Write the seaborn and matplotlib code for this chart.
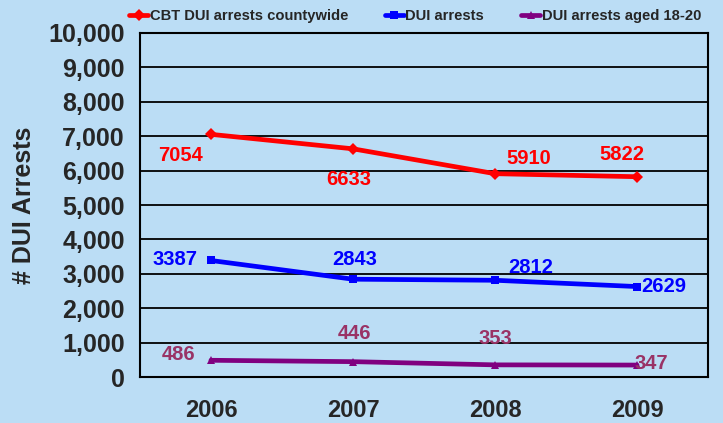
import pandas as pd
import numpy as np
import matplotlib
matplotlib.use('Agg')
import matplotlib.pyplot as plt
import seaborn as sns
from matplotlib.ticker import FuncFormatter, FixedLocator

years = ['2006', '2007', '2008', '2009']
cbt_countywide = [7054, 6633, 5910, 5822]
dui_arrests = [3387, 2843, 2812, 2629]
dui_aged_18_20 = [486, 446, 353, 347]

series_names = ['CBT DUI arrests countywide', 'DUI arrests', 'DUI arrests aged 18-20']

df = pd.DataFrame({
    'year': years * 3,
    'arrests': cbt_countywide + dui_arrests + dui_aged_18_20,
    'series': np.repeat(series_names, len(years)),
})

sns.set_style('white')
plt.rcParams['font.family'] = ['Liberation Sans', 'DejaVu Sans']
plt.rcParams['font.weight'] = 'bold'

bg = '#BBDDF5'
line_colors = {series_names[0]: '#FF0000', series_names[1]: '#0000FF', series_names[2]: '#800080'}
label_colors = {series_names[0]: '#FF0000', series_names[1]: '#0000FF', series_names[2]: '#993366'}

fig = plt.figure(figsize=(7.23, 4.23), dpi=100, facecolor=bg)
ax = fig.add_axes([140 / 723, 46 / 423, 568 / 723, 344 / 423])
ax.set_facecolor(bg)

sns.lineplot(
    data=df, x='year', y='arrests', hue='series', style='series',
    palette=line_colors, markers={series_names[0]: 'D', series_names[1]: 's', series_names[2]: '^'},
    dashes=False, linewidth=3.4, markersize=6, markeredgewidth=0, sort=False, ax=ax, legend=True,
)

ax.set_xlim(-0.5, 3.5)
ax.set_ylim(0, 10000)
ax.set_yticks(range(0, 10001, 1000))
ax.yaxis.set_major_formatter(FuncFormatter(lambda v, p: f'{int(v):,}'))
ax.yaxis.grid(True, color='black', linewidth=1.3)
ax.set_axisbelow(True)

# x ticks at category boundaries, labels at centers
ax.set_xticks(range(len(years)))
ax.set_xticklabels(years)
ax.xaxis.set_minor_locator(FixedLocator([-0.5, 0.5, 1.5, 2.5, 3.5]))
ax.tick_params(axis='x', which='major', length=0, pad=16, labelsize=17)
ax.tick_params(axis='x', which='minor', length=7, width=1.5, color='black', direction='out')
ax.tick_params(axis='y', length=7, width=1.5, color='black', direction='out', labelsize=18, pad=4)
for lab in ax.get_xticklabels() + ax.get_yticklabels():
    lab.set_fontweight('bold')

for s in ax.spines.values():
    s.set_color('black')
    s.set_linewidth(1.5)

ax.set_xlabel('')
ax.set_ylabel('# DUI Arrests', fontsize=18, fontweight='bold', labelpad=9)

# data labels (offsets in points)
offsets = {
    series_names[0]: [(-22, -15), (-3, -22), (24, 11), (-11, 16)],
    series_names[1]: [(-26, 1), (1, 14), (26, 9), (19, 0)],
    series_names[2]: [(-23, 4), (1, 20), (0, 19), (10, 1)],
}
values = {series_names[0]: cbt_countywide, series_names[1]: dui_arrests, series_names[2]: dui_aged_18_20}
for name in series_names:
    for i, v in enumerate(values[name]):
        ax.annotate(str(v), (i, v), xytext=offsets[name][i], textcoords='offset points',
                    ha='center', va='center', fontsize=14.5, fontweight='bold',
                    color=label_colors[name])

handles, labels = ax.get_legend_handles_labels()
ax.get_legend().remove()
fig.legend(handles, labels, loc='center', bbox_to_anchor=(415 / 723, 1 - 16 / 423), ncol=3,
           frameon=False, handlelength=1.3, handletextpad=0.1, columnspacing=2.5,
           prop={'weight': 'bold', 'size': 10.6})

fig.savefig('out.png', dpi=100, facecolor=bg)
